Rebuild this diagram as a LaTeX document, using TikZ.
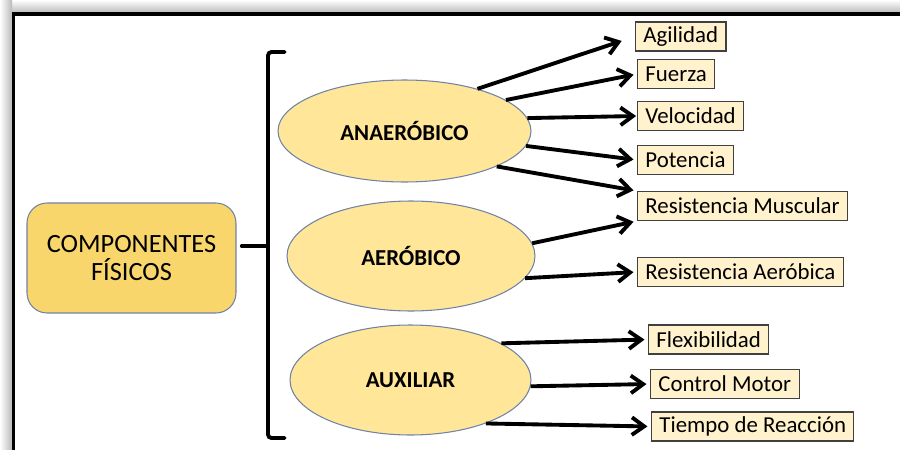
\documentclass[tikz,border=0pt]{standalone}
\usepackage{fontspec}
\setmainfont{Carlito}
\usepackage{tikz}
\usetikzlibrary{shapes.geometric,arrows.meta,positioning}
\definecolor{goldmid}{HTML}{F9D66B}
\definecolor{goldlight}{HTML}{FFE699}
\definecolor{goldpale}{HTML}{FFF2CC}
\definecolor{edgeblue}{HTML}{7083A6}

\begin{document}
\begin{tikzpicture}[x=0.02cm, y=-0.02cm,
    mainbox/.style={draw=edgeblue, line width=0.6pt, fill=goldmid, rounded corners=0.4cm,
      minimum width=4.18cm, minimum height=2.2cm, align=center,
      font=\fontsize{15}{16}\selectfont},
    group/.style={ellipse, draw=edgeblue, line width=0.6pt, fill=goldlight, inner sep=0pt,
      font=\fontsize{13}{14}\selectfont\bfseries},
    item/.style={draw=black!75, line width=0.6pt, fill=goldpale, anchor=west,
      minimum height=0.58cm, inner xsep=4.5pt, inner ysep=0pt,
      font=\fontsize{13}{14}\selectfont},
    arr/.style={line width=2.2pt, -{Straight Barb[length=7pt,width=10pt]}, shorten >=2pt},
    brace/.style={line width=2.2pt, line cap=round}]
  \useasboundingbox (0,0) rectangle (900,450);
  \clip (0,0) rectangle (900,450);

  % shadow and frame
  \shade[top color=white, bottom color=gray!55] (0,0) rectangle (900,13);
  \shade[left color=white, right color=gray!55] (0,0) rectangle (12,450);
  \draw[line width=0.08cm] (13.5,14) rectangle (930,480);

  % main box and brace
  \node[mainbox] (main) at (131.5,258) {COMPONENTES\\FÍSICOS};
  \coordinate (btop) at (268,52);
  \coordinate (bmid) at (268,246);
  \coordinate (bbot) at (268,438);
  \draw[brace, rounded corners=2pt] ([xshift=9.5pt]btop) -- (btop) -- (bbot) -- ([xshift=9.5pt]bbot);
  \draw[brace] (bmid) -- ([xshift=3pt]bmid -| main.east);

  % groups
  \node[group, minimum width=5.06cm, minimum height=2.04cm] (ana) at (404.5,131) {ANAERÓBICO};
  \node[group, minimum width=4.96cm, minimum height=2.2cm] (aer) at (411,256) {AERÓBICO};
  \node[group, minimum width=4.82cm, minimum height=2.2cm] (aux) at (410.5,380) {AUXILIAR};

  % components
  \node[item] (agi) at (635,36.5) {Agilidad};
  \node[item] (fue) at (637,74) {Fuerza};
  \node[item] (vel) at (637,116) {Velocidad};
  \node[item] (pot) at (637,160) {Potencia};
  \node[item] (rmu) at (637,206) {Resistencia Muscular};
  \node[item] (rae) at (637,272) {Resistencia Aeróbica};
  \node[item] (fle) at (648,339.5) {Flexibilidad};
  \node[item] (con) at (650,384) {Control Motor};
  \node[item] (tie) at (651,426.5) {Tiempo de Reacción};

  % arrows
  \draw[arr, shorten >=8pt] (ana.30) -- (agi.west);
  \draw[arr] (ana.17) -- (fue.west);
  \draw[arr, shorten >=0.5pt] (ana.6) -- (vel.west);
  \draw[arr] (ana.-7) -- (pot.west);
  \draw[arr] (ana.-21) -- (rmu.north west);
  \draw[arr] (aer.6) -- (rmu.south west);
  \draw[arr] (aer.-11) -- (rae.west);
  \draw[arr] (aux.22) -- (fle.west);
  \draw[arr] (aux.-3) -- (con.west);
  \draw[arr] (aux.-30) -- (tie.west);
\end{tikzpicture}
\end{document}
